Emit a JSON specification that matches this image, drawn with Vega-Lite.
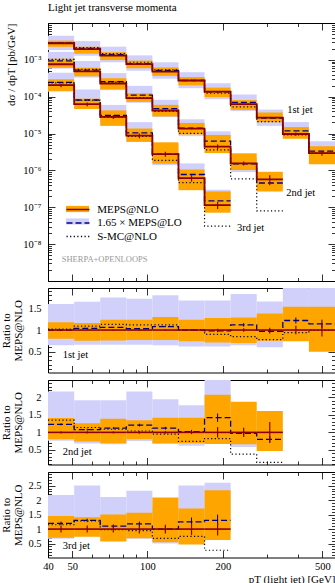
{
"$schema": "https://vega.github.io/schema/vega-lite/v6.json",
"padding": {"left": 0, "top": 2, "right": 0, "bottom": 0},
"autosize": {"type": "pad"},
"spacing": 7,
"bounds": "flush",
"config": {
  "view": {"stroke": null},
  "font": "Liberation Serif",
  "axis": {"domainColor": "#000", "domainWidth": 1, "tickColor": "#000", "tickWidth": 0.8, "labelFont": "Liberation Serif", "labelFontSize": 10.5, "labelColor": "#000", "titleFont": "Liberation Serif", "titleFontSize": 11, "titleFontWeight": "normal", "titleColor": "#000", "grid": false, "labelFlush": false, "labelOverlap": false, "labelBound": false, "zindex": 1},
  "legend": {"labelFont": "Liberation Serif", "labelFontSize": 11, "labelColor": "#000"}
},
"datasets": {"bins": [
{"j":1,"i":1,"x1":40,"x2":50.9,"xc":45.1,"nlo":2.82e-3,"nloDn":2.256e-3,"nloUp":3.328e-3,"err":2.8e-5,"lo":2.82e-3,"loDn":1.833e-3,"loUp":4.512e-3,"smc":2.876e-3,"rNlo":1,"rNloDn":0.80,"rNloUp":1.18,"rErr":0.01,"rLo":1.0,"rLoDn":0.65,"rLoUp":1.6,"rLoErr":0.01,"rSmc":1.02},
{"j":1,"i":2,"x1":50.9,"x2":64.7,"xc":57.4,"nlo":1.96e-3,"nloDn":1.47e-3,"nloUp":2.274e-3,"err":2e-5,"lo":2.038e-3,"loDn":1.294e-3,"loUp":3.234e-3,"smc":2.136e-3,"rNlo":1,"rNloDn":0.75,"rNloUp":1.16,"rErr":0.01,"rLo":1.04,"rLoDn":0.66,"rLoUp":1.65,"rLoErr":0.01,"rSmc":1.09},
{"j":1,"i":3,"x1":64.7,"x2":82.3,"xc":73.0,"nlo":1.30e-3,"nloDn":9.88e-4,"nloUp":1.612e-3,"err":1.3e-5,"lo":1.378e-3,"loDn":8.58e-4,"loUp":2.275e-3,"smc":1.469e-3,"rNlo":1,"rNloDn":0.76,"rNloUp":1.24,"rErr":0.01,"rLo":1.06,"rLoDn":0.66,"rLoUp":1.75,"rLoErr":0.01,"rSmc":1.13},
{"j":1,"i":4,"x1":82.3,"x2":104.6,"xc":92.8,"nlo":7.7e-4,"nloDn":5.93e-4,"nloUp":9.55e-4,"err":7.7e-6,"lo":7.93e-4,"loDn":5.08e-4,"loUp":1.324e-3,"smc":8.62e-4,"rNlo":1,"rNloDn":0.77,"rNloUp":1.24,"rErr":0.01,"rLo":1.03,"rLoDn":0.66,"rLoUp":1.72,"rLoErr":0.01,"rSmc":1.12},
{"j":1,"i":5,"x1":104.6,"x2":133,"xc":117.9,"nlo":4.77e-4,"nloDn":3.67e-4,"nloUp":6.2e-4,"err":7.2e-6,"lo":5.15e-4,"loDn":3.1e-4,"loUp":8.59e-4,"smc":5.34e-4,"rNlo":1,"rNloDn":0.77,"rNloUp":1.30,"rErr":0.015,"rLo":1.08,"rLoDn":0.65,"rLoUp":1.8,"rLoErr":0.015,"rSmc":1.12},
{"j":1,"i":6,"x1":133,"x2":169.1,"xc":150.0,"nlo":2.75e-4,"nloDn":2.035e-4,"nloUp":3.41e-4,"err":5.5e-6,"lo":2.75e-4,"loDn":1.705e-4,"loUp":4.62e-4,"smc":2.78e-4,"rNlo":1,"rNloDn":0.74,"rNloUp":1.24,"rErr":0.02,"rLo":1.0,"rLoDn":0.62,"rLoUp":1.68,"rLoErr":0.02,"rSmc":1.01},
{"j":1,"i":7,"x1":169.1,"x2":215,"xc":190.7,"nlo":1.38e-4,"nloDn":9.8e-5,"nloUp":1.766e-4,"err":4.1e-6,"lo":1.352e-4,"loDn":8.56e-5,"loUp":2.318e-4,"smc":1.242e-4,"rNlo":1,"rNloDn":0.71,"rNloUp":1.28,"rErr":0.03,"rLo":0.98,"rLoDn":0.62,"rLoUp":1.68,"rLoErr":0.03,"rSmc":0.90},
{"j":1,"i":8,"x1":215,"x2":273.4,"xc":242.4,"nlo":6.27e-5,"nloDn":4.39e-5,"nloUp":8.09e-5,"err":2.5e-6,"lo":7.02e-5,"loDn":4.08e-5,"loUp":1.147e-4,"smc":5.33e-5,"rNlo":1,"rNloDn":0.70,"rNloUp":1.29,"rErr":0.04,"rLo":1.12,"rLoDn":0.65,"rLoUp":1.83,"rLoErr":0.04,"rSmc":0.85},
{"j":1,"i":9,"x1":273.4,"x2":347.7,"xc":308.3,"nlo":2.70e-5,"nloDn":2.03e-5,"nloUp":3.73e-5,"err":1.35e-6,"lo":2.62e-5,"loDn":1.62e-5,"loUp":4.48e-5,"smc":2.11e-5,"rNlo":1,"rNloDn":0.75,"rNloUp":1.38,"rErr":0.05,"rLo":0.97,"rLoDn":0.60,"rLoUp":1.66,"rLoErr":0.05,"rSmc":0.78},
{"j":1,"i":10,"x1":347.7,"x2":442.1,"xc":392.1,"nlo":9.75e-6,"nloDn":7.22e-6,"nloUp":1.50e-5,"err":9.8e-7,"lo":1.19e-5,"loDn":8.78e-6,"loUp":2.05e-5,"smc":9.17e-6,"rNlo":1,"rNloDn":0.74,"rNloUp":1.54,"rErr":0.10,"rLo":1.22,"rLoDn":0.90,"rLoUp":2.2,"rLoErr":0.07,"rSmc":0.94},
{"j":1,"i":11,"x1":442.1,"x2":562.2,"xc":498.5,"nlo":2.94e-6,"nloDn":1.47e-6,"nloUp":4.53e-6,"err":4.4e-7,"lo":3.35e-6,"loDn":2.79e-6,"loUp":6.17e-6,"smc":2.94e-6,"rNlo":1,"rNloDn":0.50,"rNloUp":1.54,"rErr":0.15,"rLo":1.14,"rLoDn":0.95,"rLoUp":2.2,"rLoErr":0.1,"rSmc":1.0},
{"j":2,"i":1,"x1":40,"x2":50.9,"xc":45.1,"nlo":7.6e-4,"nloDn":6.08e-4,"nloUp":1.072e-3,"err":2.3e-5,"lo":9.35e-4,"loDn":5.78e-4,"loUp":1.649e-3,"smc":1.026e-3,"rNlo":1,"rNloDn":0.80,"rNloUp":1.41,"rErr":0.03,"rLo":1.23,"rLoDn":0.76,"rLoUp":2.17,"rLoErr":0.03,"rSmc":1.35},
{"j":2,"i":2,"x1":50.9,"x2":64.7,"xc":57.4,"nlo":4.85e-4,"nloDn":3.59e-4,"nloUp":6.11e-4,"err":1.5e-5,"lo":5.24e-4,"loDn":3.3e-4,"loUp":9.31e-4,"smc":5.53e-4,"rNlo":1,"rNloDn":0.74,"rNloUp":1.26,"rErr":0.03,"rLo":1.08,"rLoDn":0.68,"rLoUp":1.92,"rLoErr":0.03,"rSmc":1.14},
{"j":2,"i":3,"x1":64.7,"x2":82.3,"xc":73.0,"nlo":2.28e-4,"nloDn":1.573e-4,"nloUp":3.17e-4,"err":6.8e-6,"lo":2.554e-4,"loDn":1.505e-4,"loUp":4.38e-4,"smc":2.485e-4,"rNlo":1,"rNloDn":0.69,"rNloUp":1.39,"rErr":0.03,"rLo":1.12,"rLoDn":0.66,"rLoUp":1.92,"rLoErr":0.03,"rSmc":1.09},
{"j":2,"i":4,"x1":82.3,"x2":104.6,"xc":92.8,"nlo":9.1e-5,"nloDn":7.28e-5,"nloUp":1.229e-4,"err":3.6e-6,"lo":1.101e-4,"loDn":6.83e-5,"loUp":1.975e-4,"smc":9.46e-5,"rNlo":1,"rNloDn":0.80,"rNloUp":1.35,"rErr":0.04,"rLo":1.21,"rLoDn":0.75,"rLoUp":2.17,"rLoErr":0.04,"rSmc":1.04},
{"j":2,"i":5,"x1":104.6,"x2":133,"xc":117.9,"nlo":4.23e-5,"nloDn":2.92e-5,"nloUp":6.01e-5,"err":1.7e-6,"lo":4.74e-5,"loDn":2.83e-5,"loUp":8.25e-5,"smc":4.02e-5,"rNlo":1,"rNloDn":0.69,"rNloUp":1.42,"rErr":0.04,"rLo":1.12,"rLoDn":0.67,"rLoUp":1.95,"rLoErr":0.04,"rSmc":0.95},
{"j":2,"i":6,"x1":133,"x2":169.1,"xc":150.0,"nlo":1.37e-5,"nloDn":9.45e-6,"nloUp":1.945e-5,"err":6.9e-7,"lo":1.397e-5,"loDn":8.49e-6,"loUp":2.439e-5,"smc":1.014e-5,"rNlo":1,"rNloDn":0.69,"rNloUp":1.42,"rErr":0.05,"rLo":1.02,"rLoDn":0.62,"rLoUp":1.78,"rLoErr":0.05,"rSmc":0.74},
{"j":2,"i":7,"x1":169.1,"x2":215,"xc":190.7,"nlo":4.41e-6,"nloDn":2.95e-6,"nloUp":9.17e-6,"err":6.6e-7,"lo":6.26e-6,"loDn":3.75e-6,"loUp":1.147e-5,"smc":3.62e-6,"rNlo":1,"rNloDn":0.67,"rNloUp":2.08,"rErr":0.15,"rLo":1.42,"rLoDn":0.85,"rLoUp":2.6,"rLoErr":0.12,"rSmc":0.82},
{"j":2,"i":8,"x1":215,"x2":273.4,"xc":242.4,"nlo":1.55e-6,"nloDn":1.023e-6,"nloUp":2.914e-6,"err":2.0e-7,"lo":1.504e-6,"loDn":8.99e-7,"loUp":2.17e-6,"smc":5.89e-7,"rNlo":1,"rNloDn":0.66,"rNloUp":1.88,"rErr":0.13,"rLo":0.97,"rLoDn":0.58,"rLoUp":1.4,"rLoErr":0.06,"rSmc":0.38},
{"j":2,"i":9,"x1":273.4,"x2":347.7,"xc":308.3,"nlo":5.7e-7,"nloDn":2.68e-7,"nloUp":9.18e-7,"err":1.71e-7,"lo":4.56e-7,"loDn":3.14e-7,"loUp":6.27e-7,"smc":7.98e-8,"rNlo":1,"rNloDn":0.47,"rNloUp":1.61,"rErr":0.3,"rLo":0.80,"rLoDn":0.55,"rLoUp":1.1,"rLoErr":0.1,"rSmc":0.14},
{"j":3,"i":1,"x1":40,"x2":50.9,"xc":45.1,"nlo":2.05e-4,"nloDn":1.435e-4,"nloUp":2.97e-4,"err":2.5e-5,"lo":2.46e-4,"loDn":1.374e-4,"loUp":4.47e-4,"smc":2.36e-4,"rNlo":1,"rNloDn":0.70,"rNloUp":1.45,"rErr":0.12,"rLo":1.2,"rLoDn":0.67,"rLoUp":2.18,"rLoErr":0.06,"rSmc":1.15},
{"j":3,"i":2,"x1":50.9,"x2":64.7,"xc":57.4,"nlo":6.27e-5,"nloDn":4.64e-5,"nloUp":8.84e-5,"err":7.5e-6,"lo":8.15e-5,"loDn":4.89e-5,"loUp":1.568e-4,"smc":8.03e-5,"rNlo":1,"rNloDn":0.74,"rNloUp":1.41,"rErr":0.12,"rLo":1.3,"rLoDn":0.78,"rLoUp":2.5,"rLoErr":0.06,"rSmc":1.28},
{"j":3,"i":3,"x1":64.7,"x2":82.3,"xc":73.0,"nlo":2.84e-5,"nloDn":1.619e-5,"nloUp":4.26e-5,"err":3.4e-6,"lo":3.12e-5,"loDn":1.988e-5,"loUp":5.99e-5,"smc":2.78e-5,"rNlo":1,"rNloDn":0.57,"rNloUp":1.50,"rErr":0.12,"rLo":1.1,"rLoDn":0.7,"rLoUp":2.11,"rLoErr":0.06,"rSmc":0.98},
{"j":3,"i":4,"x1":82.3,"x2":104.6,"xc":92.8,"nlo":8.8e-6,"nloDn":5.98e-6,"nloUp":1.373e-5,"err":1.32e-6,"lo":1.038e-5,"loDn":5.9e-6,"loUp":2.04e-5,"smc":8.36e-6,"rNlo":1,"rNloDn":0.68,"rNloUp":1.56,"rErr":0.15,"rLo":1.18,"rLoDn":0.67,"rLoUp":2.32,"rLoErr":0.08,"rSmc":0.95},
{"j":3,"i":5,"x1":104.6,"x2":133,"xc":117.9,"nlo":2.77e-6,"nloDn":1.524e-6,"nloUp":5.79e-6,"err":4.2e-7,"lo":2.77e-6,"loDn":1.385e-6,"loUp":4.99e-6,"smc":1.884e-6,"rNlo":1,"rNloDn":0.55,"rNloUp":2.09,"rErr":0.15,"rLo":1.0,"rLoDn":0.5,"rLoUp":1.8,"rLoErr":0.08,"rSmc":0.68},
{"j":3,"i":6,"x1":133,"x2":169.1,"xc":150.0,"nlo":6.2e-7,"nloDn":2.91e-7,"nloUp":1.06e-6,"err":1.24e-7,"lo":7.75e-7,"loDn":4.96e-7,"loUp":1.55e-6,"smc":4.65e-7,"rNlo":1,"rNloDn":0.47,"rNloUp":1.71,"rErr":0.2,"rLo":1.25,"rLoDn":0.8,"rLoUp":2.5,"rLoErr":0.15,"rSmc":0.75},
{"j":3,"i":7,"x1":169.1,"x2":215,"xc":190.7,"nlo":1.15e-7,"nloDn":7.13e-8,"nloUp":2.69e-7,"err":2.5e-8,"lo":1.495e-7,"loDn":1.035e-7,"loUp":2.99e-7,"smc":3.1e-8,"rNlo":1,"rNloDn":0.62,"rNloUp":2.34,"rErr":0.22,"rLo":1.3,"rLoDn":0.9,"rLoUp":2.6,"rLoErr":0.2,"rSmc":0.27}
]},
"vconcat": [
{
 "width": 287, "height": 258,
 "title": {"text": "Light jet transverse momenta", "anchor": "start", "frame": "group", "fontSize": 11, "fontWeight": "normal", "font": "Liberation Serif", "offset": 5, "color": "#000"},
 "data": {"name": "bins"},
 "layer": [
  {"mark": {"type": "rect", "clip": true},
   "encoding": {
    "x": {"field": "x1", "type": "quantitative", "scale": {"type": "log", "domain": [40, 562.2], "nice": false},
      "axis": {"orient": "bottom", "values": [40,50,60,70,80,90,100,200,300,400,500], "labels": false, "title": null, "tickSize": {"condition": {"test": "indexof([40,50,100,200,500], datum.value) >= 0", "value": -7}, "value": -3.5}}},
    "x2": {"field": "x2"},
    "y": {"field": "loDn", "type": "quantitative", "scale": {"type": "log", "domain": [1e-9, 1e-2], "nice": false},
      "axis": {"orient": "left", "values": [1e-9,2e-9,3e-9,4e-9,5e-9,6e-9,7e-9,8e-9,9e-9,1e-8,2e-8,3e-8,4e-8,5e-8,6e-8,7e-8,8e-8,9e-8,1e-7,2e-7,3e-7,4e-7,5e-7,6e-7,7e-7,8e-7,9e-7,1e-6,2e-6,3e-6,4e-6,5e-6,6e-6,7e-6,8e-6,9e-6,1e-5,2e-5,3e-5,4e-5,5e-5,6e-5,7e-5,8e-5,9e-5,1e-4,2e-4,3e-4,4e-4,5e-4,6e-4,7e-4,8e-4,9e-4,1e-3,2e-3,3e-3,4e-3,5e-3,6e-3,7e-3,8e-3,9e-3,1e-2],
        "tickSize": {"condition": {"test": "indexof([1e-9,1e-8,1e-7,1e-6,1e-5,1e-4,1e-3,1e-2], datum.value) >= 0", "value": -7}, "value": -3.5},
        "labelExpr": "indexof([1e-8,1e-7,1e-6,1e-5,1e-4,1e-3], datum.value) >= 0 ? '10⁻' + ['⁰','¹','²','³','⁴','⁵','⁶','⁷','⁸','⁹'][round(-log(datum.value)/LN10)] : ''",
        "labelPadding": 14, "title": "dσ / dpT [pb/GeV]", "titleAnchor": "end", "titlePadding": 6}},
    "y2": {"field": "loUp"},
    "fill": {"datum": "lob", "scale": {"domain": ["nlob", "lob"], "range": ["#ffa500", "#d0d0fb"]},
      "legend": {"orient": "none", "legendX": 23.5, "legendY": 180, "title": null, "symbolType": "M-2,-0.54H2V0.54H-2Z", "symbolSize": 132, "symbolStrokeWidth": 0, "labelExpr": "''", "labelOffset": 12.7, "rowPadding": 1.5, "padding": 0, "zindex": 1}}
   }},
  {"mark": {"type": "rect", "clip": true},
   "encoding": {
    "x": {"field": "x1", "type": "quantitative", "scale": {"type": "log", "domain": [40, 562.2], "nice": false}, "axis": null},
    "x2": {"field": "x2"},
    "y": {"field": "nloDn", "type": "quantitative", "scale": {"type": "log", "domain": [1e-9, 1e-2], "nice": false}, "axis": null},
    "y2": {"field": "nloUp"},
    "fill": {"datum": "nlob", "scale": {"domain": ["nlob", "lob"], "range": ["#ffa500", "#d0d0fb"]}}
   }},
  {"transform": [{"fold": ["x1", "x2"], "as": ["edge", "x"]}],
   "mark": {"type": "line", "strokeWidth": 1.3, "clip": true},
   "encoding": {
    "x": {"field": "x", "type": "quantitative", "scale": {"type": "log", "domain": [40, 562.2], "nice": false}, "axis": null},
    "y": {"field": "lo", "type": "quantitative", "scale": {"type": "log", "domain": [1e-9, 1e-2], "nice": false}, "axis": null},
    "detail": {"field": "j", "type": "nominal"},
    "order": [{"field": "i", "type": "quantitative"}, {"field": "edge", "type": "nominal"}],
    "stroke": {"datum": "1.65 × MEPS@LO", "scale": {"domain": ["MEPS@NLO", "1.65 × MEPS@LO", "S-MC@NLO"], "range": ["#8b0000", "#00008b", "#000000"]},
      "legend": {"orient": "none", "legendX": 23.5, "legendY": 180, "title": null, "symbolType": "M-2,0H2", "symbolSize": 132, "symbolStrokeWidth": 1.5, "labelOffset": 12.7, "rowPadding": 1.5, "padding": 0, "zindex": 2}},
    "strokeDash": {"datum": "1.65 × MEPS@LO", "scale": {"domain": ["MEPS@NLO", "1.65 × MEPS@LO", "S-MC@NLO"], "range": [[1, 0], [6, 3], [1.2, 2.4]]},
      "legend": {"orient": "none", "legendX": 23.5, "legendY": 180, "title": null, "symbolType": "M-2,0H2", "symbolSize": 132, "symbolStrokeWidth": 1.5, "labelOffset": 12.7, "rowPadding": 1.5, "padding": 0, "zindex": 2}}
   }},
  {"transform": [{"fold": ["x1", "x2"], "as": ["edge", "x"]}],
   "mark": {"type": "line", "strokeWidth": 1.2, "clip": true},
   "encoding": {
    "x": {"field": "x", "type": "quantitative", "scale": {"type": "log", "domain": [40, 562.2], "nice": false}, "axis": null},
    "y": {"field": "smc", "type": "quantitative", "scale": {"type": "log", "domain": [1e-9, 1e-2], "nice": false}, "axis": null},
    "detail": {"field": "j", "type": "nominal"},
    "order": [{"field": "i", "type": "quantitative"}, {"field": "edge", "type": "nominal"}],
    "stroke": {"datum": "S-MC@NLO"},
    "strokeDash": {"datum": "S-MC@NLO"}
   }},
  {"transform": [{"fold": ["x1", "x2"], "as": ["edge", "x"]}],
   "mark": {"type": "line", "strokeWidth": 1.8, "clip": true},
   "encoding": {
    "x": {"field": "x", "type": "quantitative", "scale": {"type": "log", "domain": [40, 562.2], "nice": false}, "axis": null},
    "y": {"field": "nlo", "type": "quantitative", "scale": {"type": "log", "domain": [1e-9, 1e-2], "nice": false}, "axis": null},
    "detail": {"field": "j", "type": "nominal"},
    "order": [{"field": "i", "type": "quantitative"}, {"field": "edge", "type": "nominal"}],
    "stroke": {"datum": "MEPS@NLO"},
    "strokeDash": {"datum": "MEPS@NLO"}
   }},
  {"mark": {"type": "errorbar", "color": "#8b0000", "thickness": 1.2},
   "encoding": {
    "x": {"field": "xc", "type": "quantitative", "scale": {"type": "log", "domain": [40, 562.2], "nice": false}, "axis": null},
    "y": {"field": "nlo", "type": "quantitative", "scale": {"type": "log", "domain": [1e-9, 1e-2], "nice": false}, "axis": null},
    "yError": {"field": "err"}
   }},
  {"data": {"values": [{"t": "1st jet", "x": 362, "y": 4.23e-5}, {"t": "2nd jet", "x": 359, "y": 2.42e-7}, {"t": "3rd jet", "x": 228, "y": 2.78e-8}]},
   "mark": {"type": "text", "align": "left", "baseline": "middle", "fontSize": 10.5, "font": "Liberation Serif", "color": "#000"},
   "encoding": {
    "x": {"field": "x", "type": "quantitative", "scale": {"type": "log", "domain": [40, 562.2], "nice": false}, "axis": null},
    "y": {"field": "y", "type": "quantitative", "scale": {"type": "log", "domain": [1e-9, 1e-2], "nice": false}, "axis": null},
    "text": {"field": "t"}
   }},
  {"data": {"values": [{"t": "SHERPA+OPENLOOPS", "x": 45.4, "y": 3.84e-9}]},
   "mark": {"type": "text", "align": "left", "baseline": "middle", "fontSize": 8.5, "font": "Liberation Serif", "color": "#999999"},
   "encoding": {
    "x": {"field": "x", "type": "quantitative", "scale": {"type": "log", "domain": [40, 562.2], "nice": false}, "axis": null},
    "y": {"field": "y", "type": "quantitative", "scale": {"type": "log", "domain": [1e-9, 1e-2], "nice": false}, "axis": null},
    "text": {"field": "t"}
   }},
  {"mark": {"type": "point", "opacity": 0},
   "encoding": {
    "x": {"field": "xc", "type": "quantitative", "scale": {"type": "log", "domain": [40, 562.2], "nice": false},
      "axis": {"orient": "top", "values": [40,50,60,70,80,90,100,200,300,400,500], "labels": false, "title": null, "tickSize": {"condition": {"test": "indexof([40,50,100,200,500], datum.value) >= 0", "value": -7}, "value": -3.5}}},
    "y": {"field": "nlo", "type": "quantitative", "scale": {"type": "log", "domain": [1e-9, 1e-2], "nice": false},
      "axis": {"orient": "right", "labels": false, "title": null, "values": [1e-9,2e-9,3e-9,4e-9,5e-9,6e-9,7e-9,8e-9,9e-9,1e-8,2e-8,3e-8,4e-8,5e-8,6e-8,7e-8,8e-8,9e-8,1e-7,2e-7,3e-7,4e-7,5e-7,6e-7,7e-7,8e-7,9e-7,1e-6,2e-6,3e-6,4e-6,5e-6,6e-6,7e-6,8e-6,9e-6,1e-5,2e-5,3e-5,4e-5,5e-5,6e-5,7e-5,8e-5,9e-5,1e-4,2e-4,3e-4,4e-4,5e-4,6e-4,7e-4,8e-4,9e-4,1e-3,2e-3,3e-3,4e-3,5e-3,6e-3,7e-3,8e-3,9e-3,1e-2],
        "tickSize": {"condition": {"test": "indexof([1e-9,1e-8,1e-7,1e-6,1e-5,1e-4,1e-3,1e-2], datum.value) >= 0", "value": -7}, "value": -3.5}}}
   }}
 ],
 "resolve": {"axis": {"x": "independent", "y": "independent"}}
},
{
 "width": 287, "height": 84.5,
 "data": {"name": "bins"},
 "transform": [{"filter": "datum.j == 1"}],
 "layer": [
  {"mark": {"type": "rect", "clip": true, "fill": "#d0d0fb"},
   "encoding": {
    "x": {"field": "x1", "type": "quantitative", "scale": {"type": "log", "domain": [40, 562.2], "nice": false},
      "axis": {"orient": "bottom", "values": [40,50,60,70,80,90,100,200,300,400,500], "labels": false, "title": null, "tickSize": {"condition": {"test": "indexof([40,50,100,200,500], datum.value) >= 0", "value": -7}, "value": -3.5}}},
    "x2": {"field": "x2"},
    "y": {"field": "rLoDn", "type": "quantitative", "scale": {"domain": [0.02, 1.97], "nice": false, "zero": false},
      "axis": {"orient": "left", "values": [0.1,0.2,0.3,0.4,0.5,0.6,0.7,0.8,0.9,1,1.1,1.2,1.3,1.4,1.5,1.6,1.7,1.8,1.9],
        "tickSize": {"condition": {"test": "indexof([0.5,1,1.5,2,2.5], datum.value) >= 0", "value": -7}, "value": -3.5},
        "labelExpr": "indexof([0.5,1,1.5,2,2.5], datum.value) >= 0 ? '' + datum.value : ''",
        "labelPadding": 14, "title": ["Ratio to", "MEPS@NLO"], "titlePadding": 4, "titleLineHeight": 12}},
    "y2": {"field": "rLoUp"}
   }},
  {"mark": {"type": "rect", "clip": true, "fill": "#ffa500"},
   "encoding": {
    "x": {"field": "x1", "type": "quantitative", "scale": {"type": "log", "domain": [40, 562.2], "nice": false}, "axis": null},
    "x2": {"field": "x2"},
    "y": {"field": "rNloDn", "type": "quantitative", "scale": {"domain": [0.02, 1.97], "nice": false, "zero": false}, "axis": null},
    "y2": {"field": "rNloUp"}
   }},
  {"transform": [{"fold": ["x1", "x2"], "as": ["edge", "x"]}],
   "mark": {"type": "line", "stroke": "#00008b", "strokeDash": [6, 3], "strokeWidth": 1.3, "clip": true},
   "encoding": {
    "x": {"field": "x", "type": "quantitative", "scale": {"type": "log", "domain": [40, 562.2], "nice": false}, "axis": null},
    "y": {"field": "rLo", "type": "quantitative", "scale": {"domain": [0.02, 1.97], "nice": false, "zero": false}, "axis": null},
    "order": [{"field": "i", "type": "quantitative"}, {"field": "edge", "type": "nominal"}]
   }},
  {"transform": [{"fold": ["x1", "x2"], "as": ["edge", "x"]}],
   "mark": {"type": "line", "stroke": "#000000", "strokeDash": [1.2, 2.4], "strokeWidth": 1.2, "clip": true},
   "encoding": {
    "x": {"field": "x", "type": "quantitative", "scale": {"type": "log", "domain": [40, 562.2], "nice": false}, "axis": null},
    "y": {"field": "rSmc", "type": "quantitative", "scale": {"domain": [0.02, 1.97], "nice": false, "zero": false}, "axis": null},
    "order": [{"field": "i", "type": "quantitative"}, {"field": "edge", "type": "nominal"}]
   }},
  {"mark": {"type": "rule", "stroke": "#8b0000", "strokeWidth": 1.6},
   "encoding": {
    "x": {"field": "x1", "type": "quantitative", "scale": {"type": "log", "domain": [40, 562.2], "nice": false}, "axis": null},
    "x2": {"field": "x2"},
    "y": {"field": "rNlo", "type": "quantitative", "scale": {"domain": [0.02, 1.97], "nice": false, "zero": false}, "axis": null}
   }},
  {"mark": {"type": "errorbar", "color": "#00008b", "thickness": 1},
   "encoding": {
    "x": {"field": "xc", "type": "quantitative", "scale": {"type": "log", "domain": [40, 562.2], "nice": false}, "axis": null},
    "y": {"field": "rLo", "type": "quantitative", "scale": {"domain": [0.02, 1.97], "nice": false, "zero": false}, "axis": null},
    "yError": {"field": "rLoErr"}
   }},
  {"mark": {"type": "errorbar", "color": "#8b0000", "thickness": 1.2},
   "encoding": {
    "x": {"field": "xc", "type": "quantitative", "scale": {"type": "log", "domain": [40, 562.2], "nice": false}, "axis": null},
    "y": {"field": "rNlo", "type": "quantitative", "scale": {"domain": [0.02, 1.97], "nice": false, "zero": false}, "axis": null},
    "yError": {"field": "rErr"}
   }},
  {"data": {"values": [{"t": "1st jet", "x": 45.8, "y": 0.42}]},
   "mark": {"type": "text", "align": "left", "baseline": "middle", "fontSize": 10.5, "font": "Liberation Serif", "color": "#000"},
   "encoding": {
    "x": {"field": "x", "type": "quantitative", "scale": {"type": "log", "domain": [40, 562.2], "nice": false}, "axis": null},
    "y": {"field": "y", "type": "quantitative", "scale": {"domain": [0.02, 1.97], "nice": false, "zero": false}, "axis": null},
    "text": {"field": "t"}
   }},
  {"mark": {"type": "point", "opacity": 0},
   "encoding": {
    "x": {"field": "xc", "type": "quantitative", "scale": {"type": "log", "domain": [40, 562.2], "nice": false},
      "axis": {"orient": "top", "values": [40,50,60,70,80,90,100,200,300,400,500], "labels": false, "title": null, "tickSize": {"condition": {"test": "indexof([40,50,100,200,500], datum.value) >= 0", "value": -7}, "value": -3.5}}},
    "y": {"field": "rNlo", "type": "quantitative", "scale": {"domain": [0.02, 1.97], "nice": false, "zero": false},
      "axis": {"orient": "right", "labels": false, "title": null, "values": [0.1,0.2,0.3,0.4,0.5,0.6,0.7,0.8,0.9,1,1.1,1.2,1.3,1.4,1.5,1.6,1.7,1.8,1.9],
        "tickSize": {"condition": {"test": "indexof([0.5,1,1.5,2,2.5], datum.value) >= 0", "value": -7}, "value": -3.5}}}
   }}
 ],
 "resolve": {"axis": {"x": "independent", "y": "independent"}}
},
{
 "width": 287, "height": 84.5,
 "data": {"name": "bins"},
 "transform": [{"filter": "datum.j == 2"}],
 "layer": [
  {"mark": {"type": "rect", "clip": true, "fill": "#d0d0fb"},
   "encoding": {
    "x": {"field": "x1", "type": "quantitative", "scale": {"type": "log", "domain": [40, 562.2], "nice": false},
      "axis": {"orient": "bottom", "values": [40,50,60,70,80,90,100,200,300,400,500], "labels": false, "title": null, "tickSize": {"condition": {"test": "indexof([40,50,100,200,500], datum.value) >= 0", "value": -7}, "value": -3.5}}},
    "x2": {"field": "x2"},
    "y": {"field": "rLoDn", "type": "quantitative", "scale": {"domain": [0.08, 2.5], "nice": false, "zero": false},
      "axis": {"orient": "left", "values": [0.1,0.2,0.3,0.4,0.5,0.6,0.7,0.8,0.9,1,1.1,1.2,1.3,1.4,1.5,1.6,1.7,1.8,1.9,2,2.1,2.2,2.3,2.4],
        "tickSize": {"condition": {"test": "indexof([0.5,1,1.5,2,2.5], datum.value) >= 0", "value": -7}, "value": -3.5},
        "labelExpr": "indexof([0.5,1,1.5,2], datum.value) >= 0 ? '' + datum.value : ''",
        "labelPadding": 14, "title": ["Ratio to", "MEPS@NLO"], "titlePadding": 4, "titleLineHeight": 12}},
    "y2": {"field": "rLoUp"}
   }},
  {"mark": {"type": "rect", "clip": true, "fill": "#ffa500"},
   "encoding": {
    "x": {"field": "x1", "type": "quantitative", "scale": {"type": "log", "domain": [40, 562.2], "nice": false}, "axis": null},
    "x2": {"field": "x2"},
    "y": {"field": "rNloDn", "type": "quantitative", "scale": {"domain": [0.08, 2.5], "nice": false, "zero": false}, "axis": null},
    "y2": {"field": "rNloUp"}
   }},
  {"transform": [{"fold": ["x1", "x2"], "as": ["edge", "x"]}],
   "mark": {"type": "line", "stroke": "#00008b", "strokeDash": [6, 3], "strokeWidth": 1.3, "clip": true},
   "encoding": {
    "x": {"field": "x", "type": "quantitative", "scale": {"type": "log", "domain": [40, 562.2], "nice": false}, "axis": null},
    "y": {"field": "rLo", "type": "quantitative", "scale": {"domain": [0.08, 2.5], "nice": false, "zero": false}, "axis": null},
    "order": [{"field": "i", "type": "quantitative"}, {"field": "edge", "type": "nominal"}]
   }},
  {"transform": [{"fold": ["x1", "x2"], "as": ["edge", "x"]}],
   "mark": {"type": "line", "stroke": "#000000", "strokeDash": [1.2, 2.4], "strokeWidth": 1.2, "clip": true},
   "encoding": {
    "x": {"field": "x", "type": "quantitative", "scale": {"type": "log", "domain": [40, 562.2], "nice": false}, "axis": null},
    "y": {"field": "rSmc", "type": "quantitative", "scale": {"domain": [0.08, 2.5], "nice": false, "zero": false}, "axis": null},
    "order": [{"field": "i", "type": "quantitative"}, {"field": "edge", "type": "nominal"}]
   }},
  {"mark": {"type": "rule", "stroke": "#8b0000", "strokeWidth": 1.6},
   "encoding": {
    "x": {"field": "x1", "type": "quantitative", "scale": {"type": "log", "domain": [40, 562.2], "nice": false}, "axis": null},
    "x2": {"field": "x2"},
    "y": {"field": "rNlo", "type": "quantitative", "scale": {"domain": [0.08, 2.5], "nice": false, "zero": false}, "axis": null}
   }},
  {"mark": {"type": "errorbar", "color": "#00008b", "thickness": 1},
   "encoding": {
    "x": {"field": "xc", "type": "quantitative", "scale": {"type": "log", "domain": [40, 562.2], "nice": false}, "axis": null},
    "y": {"field": "rLo", "type": "quantitative", "scale": {"domain": [0.08, 2.5], "nice": false, "zero": false}, "axis": null},
    "yError": {"field": "rLoErr"}
   }},
  {"mark": {"type": "errorbar", "color": "#8b0000", "thickness": 1.2},
   "encoding": {
    "x": {"field": "xc", "type": "quantitative", "scale": {"type": "log", "domain": [40, 562.2], "nice": false}, "axis": null},
    "y": {"field": "rNlo", "type": "quantitative", "scale": {"domain": [0.08, 2.5], "nice": false, "zero": false}, "axis": null},
    "yError": {"field": "rErr"}
   }},
  {"data": {"values": [{"t": "2nd jet", "x": 45.8, "y": 0.43}]},
   "mark": {"type": "text", "align": "left", "baseline": "middle", "fontSize": 10.5, "font": "Liberation Serif", "color": "#000"},
   "encoding": {
    "x": {"field": "x", "type": "quantitative", "scale": {"type": "log", "domain": [40, 562.2], "nice": false}, "axis": null},
    "y": {"field": "y", "type": "quantitative", "scale": {"domain": [0.08, 2.5], "nice": false, "zero": false}, "axis": null},
    "text": {"field": "t"}
   }},
  {"mark": {"type": "point", "opacity": 0},
   "encoding": {
    "x": {"field": "xc", "type": "quantitative", "scale": {"type": "log", "domain": [40, 562.2], "nice": false},
      "axis": {"orient": "top", "values": [40,50,60,70,80,90,100,200,300,400,500], "labels": false, "title": null, "tickSize": {"condition": {"test": "indexof([40,50,100,200,500], datum.value) >= 0", "value": -7}, "value": -3.5}}},
    "y": {"field": "rNlo", "type": "quantitative", "scale": {"domain": [0.08, 2.5], "nice": false, "zero": false},
      "axis": {"orient": "right", "labels": false, "title": null, "values": [0.1,0.2,0.3,0.4,0.5,0.6,0.7,0.8,0.9,1,1.1,1.2,1.3,1.4,1.5,1.6,1.7,1.8,1.9,2,2.1,2.2,2.3,2.4],
        "tickSize": {"condition": {"test": "indexof([0.5,1,1.5,2,2.5], datum.value) >= 0", "value": -7}, "value": -3.5}}}
   }}
 ],
 "resolve": {"axis": {"x": "independent", "y": "independent"}}
},
{
 "width": 287, "height": 85.5,
 "data": {"name": "bins"},
 "transform": [{"filter": "datum.j == 3"}],
 "layer": [
  {"mark": {"type": "rect", "clip": true, "fill": "#d0d0fb"},
   "encoding": {
    "x": {"field": "x1", "type": "quantitative", "scale": {"type": "log", "domain": [40, 562.2], "nice": false},
      "axis": {"orient": "bottom", "values": [40,50,60,70,80,90,100,200,300,400,500], "tickSize": {"condition": {"test": "indexof([40,50,100,200,500], datum.value) >= 0", "value": -7}, "value": -3.5},
        "labelExpr": "indexof([40,50,100,200,500], datum.value) >= 0 ? '' + datum.value : ''", "labelPadding": 11,
        "title": "pT (light jet) [GeV]", "titleAnchor": "end", "titlePadding": -2.5}},
    "x2": {"field": "x2"},
    "y": {"field": "rLoDn", "type": "quantitative", "scale": {"domain": [0.02, 2.97], "nice": false, "zero": false},
      "axis": {"orient": "left", "values": [0.1,0.2,0.3,0.4,0.5,0.6,0.7,0.8,0.9,1,1.1,1.2,1.3,1.4,1.5,1.6,1.7,1.8,1.9,2,2.1,2.2,2.3,2.4,2.5,2.6,2.7,2.8,2.9],
        "tickSize": {"condition": {"test": "indexof([0.5,1,1.5,2,2.5], datum.value) >= 0", "value": -7}, "value": -3.5},
        "labelExpr": "indexof([0.5,1,1.5,2,2.5], datum.value) >= 0 ? '' + datum.value : ''",
        "labelPadding": 14, "title": ["Ratio to", "MEPS@NLO"], "titlePadding": 4, "titleLineHeight": 12}},
    "y2": {"field": "rLoUp"}
   }},
  {"mark": {"type": "rect", "clip": true, "fill": "#ffa500"},
   "encoding": {
    "x": {"field": "x1", "type": "quantitative", "scale": {"type": "log", "domain": [40, 562.2], "nice": false}, "axis": null},
    "x2": {"field": "x2"},
    "y": {"field": "rNloDn", "type": "quantitative", "scale": {"domain": [0.02, 2.97], "nice": false, "zero": false}, "axis": null},
    "y2": {"field": "rNloUp"}
   }},
  {"transform": [{"fold": ["x1", "x2"], "as": ["edge", "x"]}],
   "mark": {"type": "line", "stroke": "#00008b", "strokeDash": [6, 3], "strokeWidth": 1.3, "clip": true},
   "encoding": {
    "x": {"field": "x", "type": "quantitative", "scale": {"type": "log", "domain": [40, 562.2], "nice": false}, "axis": null},
    "y": {"field": "rLo", "type": "quantitative", "scale": {"domain": [0.02, 2.97], "nice": false, "zero": false}, "axis": null},
    "order": [{"field": "i", "type": "quantitative"}, {"field": "edge", "type": "nominal"}]
   }},
  {"transform": [{"fold": ["x1", "x2"], "as": ["edge", "x"]}],
   "mark": {"type": "line", "stroke": "#000000", "strokeDash": [1.2, 2.4], "strokeWidth": 1.2, "clip": true},
   "encoding": {
    "x": {"field": "x", "type": "quantitative", "scale": {"type": "log", "domain": [40, 562.2], "nice": false}, "axis": null},
    "y": {"field": "rSmc", "type": "quantitative", "scale": {"domain": [0.02, 2.97], "nice": false, "zero": false}, "axis": null},
    "order": [{"field": "i", "type": "quantitative"}, {"field": "edge", "type": "nominal"}]
   }},
  {"mark": {"type": "rule", "stroke": "#8b0000", "strokeWidth": 1.6},
   "encoding": {
    "x": {"field": "x1", "type": "quantitative", "scale": {"type": "log", "domain": [40, 562.2], "nice": false}, "axis": null},
    "x2": {"field": "x2"},
    "y": {"field": "rNlo", "type": "quantitative", "scale": {"domain": [0.02, 2.97], "nice": false, "zero": false}, "axis": null}
   }},
  {"mark": {"type": "errorbar", "color": "#00008b", "thickness": 1},
   "encoding": {
    "x": {"field": "xc", "type": "quantitative", "scale": {"type": "log", "domain": [40, 562.2], "nice": false}, "axis": null},
    "y": {"field": "rLo", "type": "quantitative", "scale": {"domain": [0.02, 2.97], "nice": false, "zero": false}, "axis": null},
    "yError": {"field": "rLoErr"}
   }},
  {"mark": {"type": "errorbar", "color": "#8b0000", "thickness": 1.2},
   "encoding": {
    "x": {"field": "xc", "type": "quantitative", "scale": {"type": "log", "domain": [40, 562.2], "nice": false}, "axis": null},
    "y": {"field": "rNlo", "type": "quantitative", "scale": {"domain": [0.02, 2.97], "nice": false, "zero": false}, "axis": null},
    "yError": {"field": "rErr"}
   }},
  {"data": {"values": [{"t": "3rd jet", "x": 45.8, "y": 0.4}]},
   "mark": {"type": "text", "align": "left", "baseline": "middle", "fontSize": 10.5, "font": "Liberation Serif", "color": "#000"},
   "encoding": {
    "x": {"field": "x", "type": "quantitative", "scale": {"type": "log", "domain": [40, 562.2], "nice": false}, "axis": null},
    "y": {"field": "y", "type": "quantitative", "scale": {"domain": [0.02, 2.97], "nice": false, "zero": false}, "axis": null},
    "text": {"field": "t"}
   }},
  {"mark": {"type": "point", "opacity": 0},
   "encoding": {
    "x": {"field": "xc", "type": "quantitative", "scale": {"type": "log", "domain": [40, 562.2], "nice": false},
      "axis": {"orient": "top", "values": [40,50,60,70,80,90,100,200,300,400,500], "labels": false, "title": null, "tickSize": {"condition": {"test": "indexof([40,50,100,200,500], datum.value) >= 0", "value": -7}, "value": -3.5}}},
    "y": {"field": "rNlo", "type": "quantitative", "scale": {"domain": [0.02, 2.97], "nice": false, "zero": false},
      "axis": {"orient": "right", "labels": false, "title": null, "values": [0.1,0.2,0.3,0.4,0.5,0.6,0.7,0.8,0.9,1,1.1,1.2,1.3,1.4,1.5,1.6,1.7,1.8,1.9,2,2.1,2.2,2.3,2.4,2.5,2.6,2.7,2.8,2.9],
        "tickSize": {"condition": {"test": "indexof([0.5,1,1.5,2,2.5], datum.value) >= 0", "value": -7}, "value": -3.5}}}
   }}
 ],
 "resolve": {"axis": {"x": "independent", "y": "independent"}}
}
],
"resolve": {"scale": {"fill": "independent", "stroke": "independent", "strokeDash": "independent"}, "legend": {"fill": "independent", "stroke": "independent", "strokeDash": "independent"}}
}
